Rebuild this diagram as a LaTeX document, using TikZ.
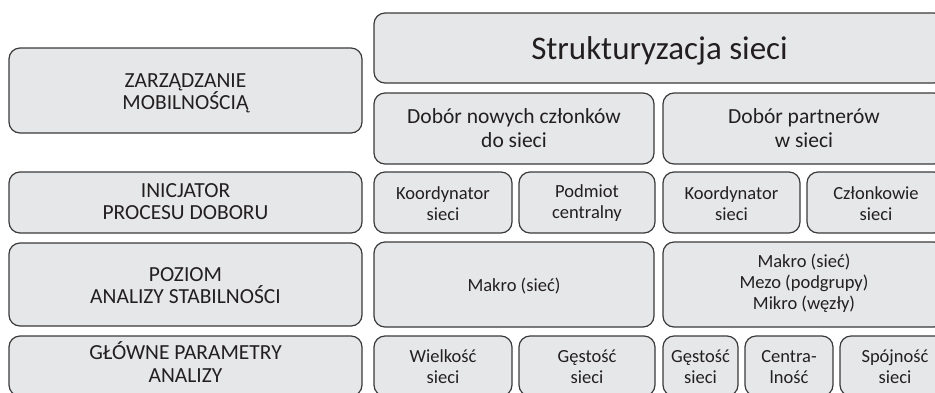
\documentclass[tikz,border=0pt]{standalone}
\usepackage{fontspec}
\setmainfont{Carlito}
\usetikzlibrary{fit}
\definecolor{boxfill}{HTML}{E6E7E8}
\definecolor{boxline}{HTML}{3A3A3A}
\definecolor{txt}{HTML}{231F20}
\begin{document}
\begin{tikzpicture}[x=1pt,y=-1pt,
  box/.style={draw=boxline, fill=boxfill, line width=1.2pt, rounded corners=11pt, inner sep=0pt},
  lbl/.style={text=txt, align=center, inner sep=0pt, font=\fontsize{18.5}{21}\selectfont},
  leftlbl/.style={lbl, font=\fontsize{21.5}{22.5}\selectfont},
  midlbl/.style={lbl, font=\fontsize{21.5}{24}\selectfont},
  biglbl/.style={lbl, font=\fontsize{33}{38}\selectfont}]
\useasboundingbox (0,0) rectangle (935,392);
\clip (0,0) rectangle (935,392);
% boxes
\node[box, fit={(9,48)(362,133)}] (zarz) {};
\node[box, fit={(9,172)(362,233)}] (inic) {};
\node[box, fit={(9,243)(362,326)}] (poz) {};
\node[box, fit={(9,336)(362,396)}] (glow) {};
\node[box, fit={(374,13)(945,83)}] (strukt) {};
\node[box, fit={(374,93)(654,164)}] (dnow) {};
\node[box, fit={(663,93)(945,164)}] (dpart) {};
\node[box, fit={(374,172)(512,233)}] (k1) {};
\node[box, fit={(519,172)(655,233)}] (pod) {};
\node[box, fit={(663,172)(800,233)}] (k2) {};
\node[box, fit={(807,172)(945,233)}] (czl) {};
\node[box, fit={(374,242)(654,327)}] (makro1) {};
\node[box, fit={(663,242)(945,327)}] (makro2) {};
\node[box, fit={(374,336)(512,396)}] (wiel) {};
\node[box, fit={(519,336)(655,396)}] (gest1) {};
\node[box, fit={(663,336)(738,396)}] (gest2) {};
\node[box, fit={(745,336)(833,396)}] (centr) {};
\node[box, fit={(840,336)(950,396)}] (spoj) {};
% texts
\node[leftlbl] (zarzT) at ([yshift=-3pt]zarz.center) {ZARZĄDZANIE\\MOBILNOŚCIĄ};
\node[leftlbl] (inicT) at ([yshift=1pt]inic.center) {INICJATOR\\PROCESU DOBORU};
\node[leftlbl] (pozT) at ([yshift=-1pt]poz.center) {POZIOM\\ANALIZY STABILNOŚCI};
\node[leftlbl] (glowT) at ([yshift=4pt]glow.center) {GŁÓWNE PARAMETRY\\ANALIZY};
\node[biglbl] (struktT) at ([yshift=-3pt]strukt.center) {Strukturyzacja sieci};
\node[midlbl] (dnowT) at (dnow.center) {Dobór nowych członków\\do sieci};
\node[midlbl] (dpartT) at (dpart.center) {Dobór partnerów\\w sieci};
\node[lbl] (k1T) at ([yshift=-1pt]k1.center) {Koordynator\\sieci};
\node[lbl] (podT) at ([yshift=-1pt]pod.center) {Podmiot\\centralny};
\node[lbl] (k2T) at ([yshift=-1pt]k2.center) {Koordynator\\sieci};
\node[lbl] (czlT) at ([yshift=-1pt]czl.center) {Członkowie\\sieci};
\node[lbl] (makro1T) at ([yshift=-2pt]makro1.center) {Makro (sieć)};
\node[lbl] (makro2T) at ([yshift=1pt]makro2.center) {Makro (sieć)\\Mezo (podgrupy)\\Mikro (węzły)};
\node[lbl] (wielT) at ([yshift=-1pt]wiel.center) {Wielkość\\sieci};
\node[lbl] (gest1T) at ([yshift=-1pt]gest1.center) {Gęstość\\sieci};
\node[lbl] (gest2T) at ([yshift=-1pt]gest2.center) {Gęstość\\sieci};
\node[lbl] (centrT) at ([yshift=-1pt]centr.center) {Centra-\\lność};
\node[lbl] (spojT) at ([yshift=-1pt]spoj.center) {Spójność\\sieci};
\end{tikzpicture}
\end{document}
